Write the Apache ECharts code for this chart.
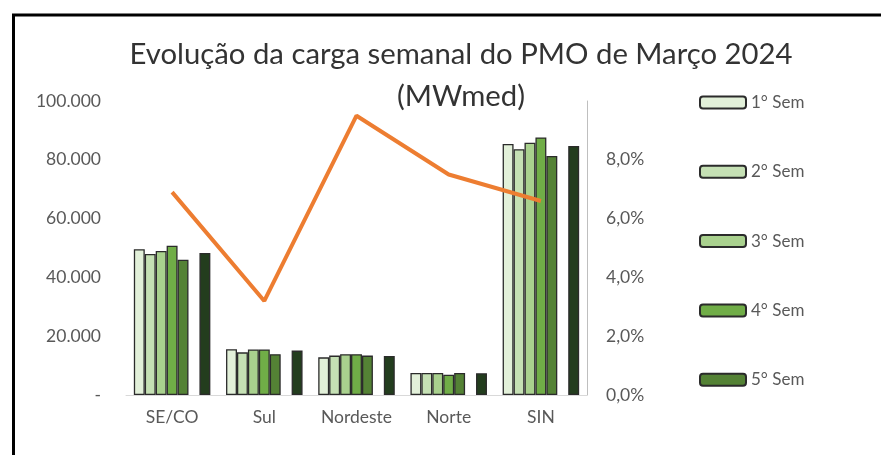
<!DOCTYPE html>
<html>
<head>
<meta charset="utf-8">
<script src="https://cdn.jsdelivr.net/npm/echarts@6/dist/echarts.min.js"></script>
<style>
  html, body { margin: 0; padding: 0; background: #fff; }
  #main { width: 881px; height: 455px; }
</style>
</head>
<body>
<div id="main"></div>
<script>
  // dados
  var categorias = ['SE/CO', 'Sul', 'Nordeste', 'Norte', 'SIN'];
  var sem1 = [49600, 15600, 12800, 7500, 85400];
  var sem2 = [48000, 14500, 13400, 7500, 83600];
  var sem3 = [49000, 15500, 13900, 7500, 85800];
  var sem4 = [50800, 15500, 13900, 6900, 87600];
  var sem5 = [46000, 13900, 13400, 7500, 81300];
  var mensal = [48300, 15100, 13300, 7400, 84700];
  var variacao = [6.9, 3.2, 9.5, 7.5, 6.6];
  var nomes = ['1° Sem', '2° Sem', '3° Sem', '4° Sem', '5° Sem'];
  var cores = ['#e2f0d9', '#c5e0b4', '#a9d18e', '#70ad47', '#548235'];

  var fonte = 'Lato';
  var borda = { borderColor: '#2b2b2b', borderWidth: 1.3 };

  function milhar(v) {
    if (v === 0) return '-';
    return String(v).replace(/\B(?=(\d{3})+(?!\d))/g, '.');
  }

  var semanas = [sem1, sem2, sem3, sem4, sem5];
  var series = [];
  for (var i = 0; i < semanas.length; i++) {
    series.push({
      name: nomes[i],
      type: 'bar',
      data: semanas[i],
      barGap: '0%',
      barCategoryGap: '17%',
      itemStyle: Object.assign({ color: cores[i] }, borda)
    });
  }
  // espaço vazio antes da barra mensal
  series.push({ name: 'vazio', type: 'bar', data: categorias.map(function () { return null; }) });
  series.push({
    name: 'Mensal',
    type: 'bar',
    data: mensal,
    itemStyle: Object.assign({ color: '#233d1e' }, borda)
  });
  series.push({
    name: 'Variação',
    type: 'line',
    yAxisIndex: 1,
    data: variacao,
    symbol: 'none',
    lineStyle: { color: '#ed7d31', width: 4 },
    itemStyle: { color: '#ed7d31' },
    z: 5
  });

  var chart = echarts.init(document.getElementById('main'));
  chart.setOption({
    animation: false,
    textStyle: { fontFamily: fonte },
    title: {
      text: 'Evolução da carga semanal do PMO de Março 2024\n(MWmed)',
      left: 456,
      top: 29,
      textAlign: 'center',
      textStyle: { fontFamily: fonte, fontSize: 29.3, fontWeight: 'normal', color: '#333', lineHeight: 42 }
    },
    legend: {
      data: nomes,
      orient: 'vertical',
      left: 694,
      top: 89,
      itemWidth: 46,
      itemHeight: 12,
      itemGap: 52.3,
      textStyle: { fontFamily: fonte, fontSize: 17, color: '#595959' }
    },
    grid: { left: 126, right: 294, top: 101, bottom: 60 },
    xAxis: {
      type: 'category',
      data: categorias,
      axisLine: { lineStyle: { color: '#d9d9d9', width: 1 } },
      axisTick: { show: false },
      axisLabel: { fontFamily: fonte, fontSize: 17.5, color: '#595959', margin: 13, interval: 0 }
    },
    yAxis: [
      {
        type: 'value',
        min: 0,
        max: 100000,
        interval: 20000,
        splitLine: { show: false },
        axisLine: { show: false },
        axisTick: { show: false },
        axisLabel: { fontFamily: fonte, fontSize: 17.5, color: '#595959', margin: 25, formatter: milhar }
      },
      {
        type: 'value',
        min: 0,
        max: 10,
        interval: 2,
        position: 'right',
        splitLine: { show: false },
        axisLine: { show: true, lineStyle: { color: '#bfbfbf', width: 1 } },
        axisTick: { show: false },
        axisLabel: {
          fontFamily: fonte, fontSize: 17.5, color: '#595959', margin: 19,
          formatter: function (v) { return v >= 10 ? '' : v.toFixed(1).replace('.', ',') + '%'; }
        }
      }
    ],
    graphic: [
      {
        type: 'rect',
        shape: { x: 13.5, y: 15, width: 1000, height: 1000 },
        style: { fill: 'none', stroke: '#000', lineWidth: 3 },
        silent: true
      }
    ],
    series: series
  });
</script>
</body>
</html>
